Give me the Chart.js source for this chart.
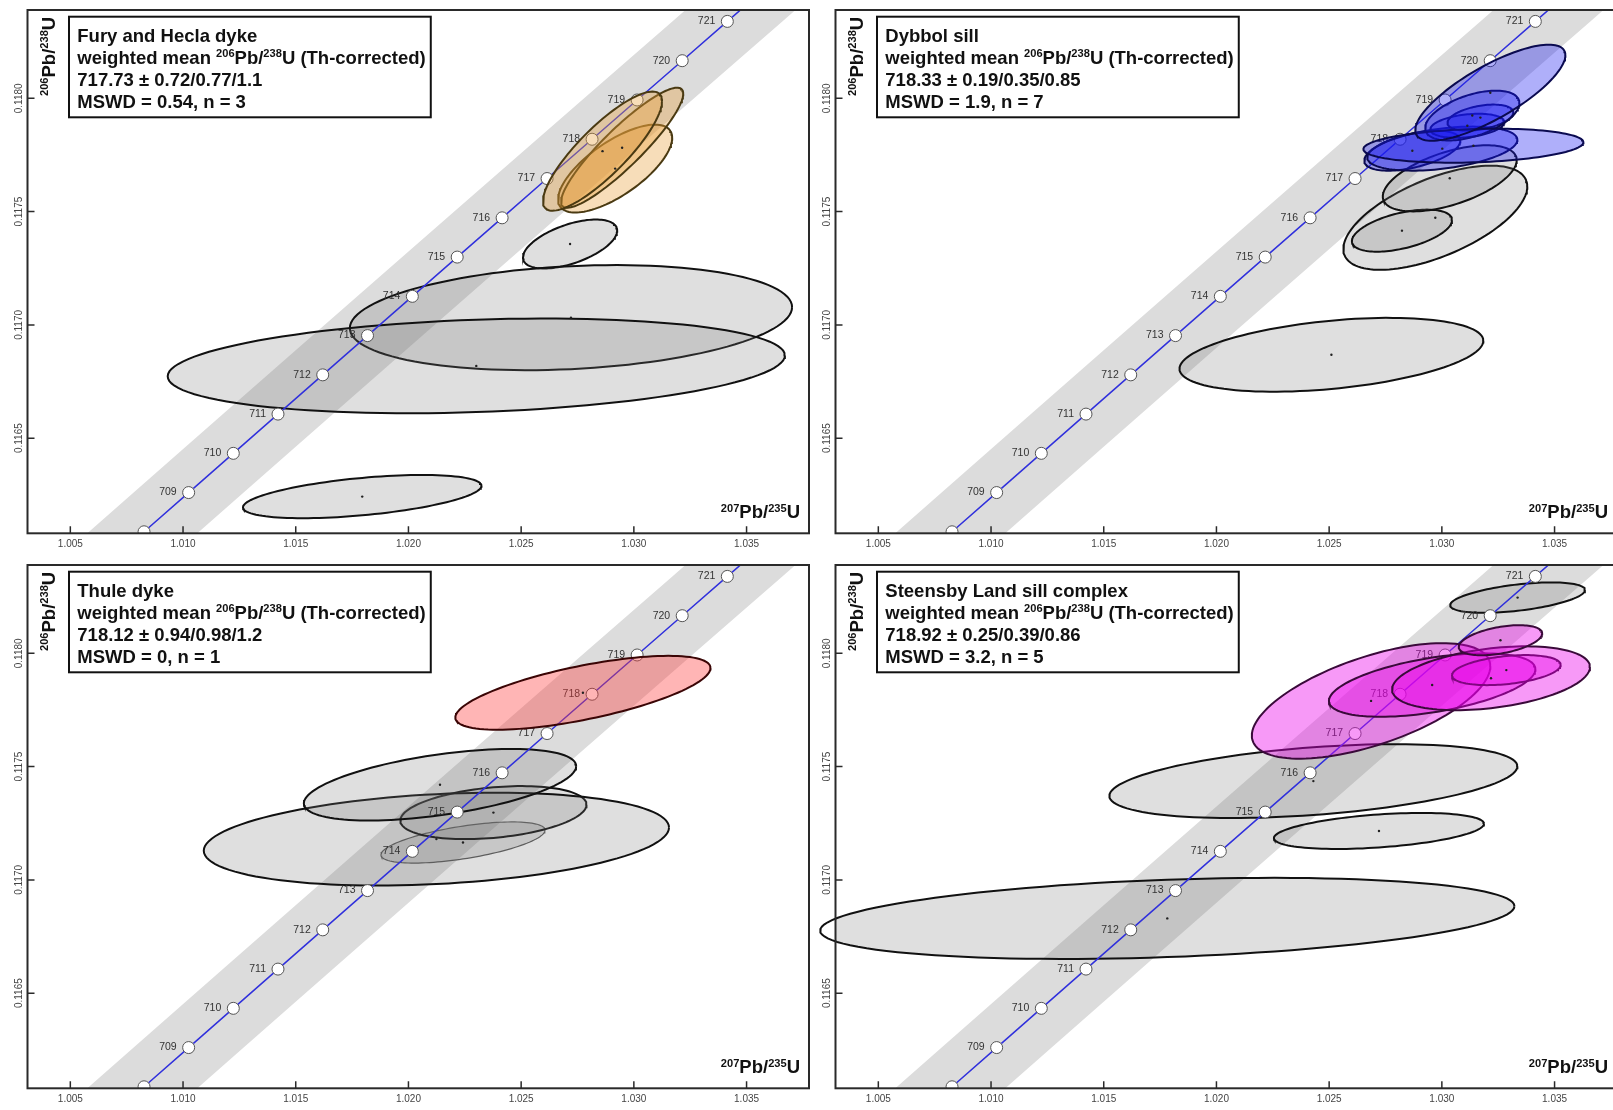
<!DOCTYPE html>
<html>
<head>
<meta charset="utf-8">
<script src="https://cdn.jsdelivr.net/npm/chart.js@4.4.1/dist/chart.umd.min.js"></script>
<style>
  html, body { margin: 0; padding: 0; background: #fff; }
  body { width: 1613px; height: 1110px; overflow: hidden; position: relative; }
  canvas { position: absolute; }
</style>
</head>
<body>
<canvas id="fury" width="820" height="560" style="left:0px;top:0px"></canvas>
<canvas id="dybbol" width="820" height="560" style="left:808px;top:0px"></canvas>
<canvas id="thule" width="820" height="560" style="left:0px;top:555px"></canvas>
<canvas id="steensby" width="820" height="560" style="left:808px;top:555px"></canvas>
<script>
const FONT = '"Liberation Sans", Arial, Helvetica, sans-serif';
Chart.defaults.font.family = FONT;

// ---- axes ----
const xTicks = [1.005, 1.010, 1.015, 1.020, 1.025, 1.030, 1.035];
const yTicks = [0.1165, 0.1170, 0.1175, 0.1180];
const xRange = [1.0031, 1.03777];
const yRange = [0.11608, 0.11839];

// ---- concordia: age (Ma), 207Pb/235U, 206Pb/238U ----
const concordiaAges = [707, 708, 709, 710, 711, 712, 713, 714, 715, 716, 717, 718, 719, 720, 721, 722];
const concordiaX = [1.0062934, 1.0082703, 1.0102491, 1.0122299, 1.0142126, 1.0161973, 1.0181839, 1.0201725,
                    1.0221630, 1.0241554, 1.0261499, 1.0281462, 1.0301446, 1.0321448, 1.0341470, 1.0361511];
const concordiaY = [0.1159136, 0.1160867, 0.1162598, 0.1164330, 0.1166062, 0.1167794, 0.1169527, 0.1171260,
                    0.1172993, 0.1174726, 0.1176460, 0.1178194, 0.1179928, 0.1181662, 0.1183397, 0.1185132];
// decay-constant uncertainty envelope, half width in 207Pb/235U
const envelopeHalfWidth = 0.00244;

// ---- Fury and Hecla dyke ----
const furyX   = [1.02301, 1.02721, 1.02717, 1.01795, 1.02861, 1.02948, 1.02917];
const furyY   = [0.116819, 0.117032, 0.117357, 0.116242, 0.117767, 0.117782, 0.117690];
const furySX  = [0.01369, 0.00981, 0.00209, 0.00529, 0.00264, 0.00271, 0.00253];
const furySY  = [0.000209, 0.000232, 0.000108, 0.0000954, 0.000263, 0.000265, 0.000194];
const furyRho = [0.22, 0.20, 0.55, 0.50, 0.84, 0.90, 0.70];
const furyUsed = [false, false, false, false, true, true, true];

// ---- Dybbol sill ----
const dybX   = [1.02510, 1.03035, 1.02823, 1.02971, 1.03215, 1.03140, 1.03135, 1.03171, 1.03113, 1.03002, 1.02869];
const dybY   = [0.116868, 0.117647, 0.117416, 0.117473, 0.118025, 0.117791, 0.117924, 0.117915, 0.117879, 0.117778, 0.117769];
const dybSX  = [0.00674, 0.00297, 0.00222, 0.00408, 0.00333, 0.00488, 0.00209, 0.00146, 0.00164, 0.00333, 0.00213];
const dybSY  = [0.000163, 0.000146, 0.0000928, 0.000230, 0.000212, 0.0000751, 0.000110, 0.0000574, 0.0000530, 0.0000972, 0.0000883];
const dybRho = [0.38, 0.55, 0.50, 0.60, 0.78, 0.20, 0.50, 0.40, 0.30, 0.40, 0.50];
const dybUsed = [false, false, false, false, true, true, true, true, true, true, true];

// ---- Thule dyke ----
const thuleX   = [1.02140, 1.02124, 1.02377, 1.02242, 1.02774];
const thuleY   = [0.117420, 0.117180, 0.117297, 0.117165, 0.117826];
const thuleSX  = [0.00604, 0.01032, 0.00413, 0.00364, 0.00566];
const thuleSY  = [0.000158, 0.000205, 0.000117, 0.0000908, 0.000163];
const thuleRho = [0.52, 0.25, 0.30, 0.60, 0.67];
const thuleUsed = [false, false, false, false, true];

// ---- Steensby Land sill complex ----
const steenX   = [1.03336, 1.02430, 1.02721, 1.01782, 1.03260, 1.03218, 1.03286, 1.02957, 1.02686];
const steenY   = [0.118246, 0.117436, 0.117216, 0.116830, 0.118058, 0.117890, 0.117926, 0.117860, 0.117790];
const steenSX  = [0.00299, 0.00905, 0.00466, 0.01540, 0.00185, 0.00439, 0.00241, 0.00458, 0.00529];
const steenSY  = [0.0000671, 0.000163, 0.0000795, 0.000179, 0.0000663, 0.000141, 0.0000663, 0.000140, 0.000255];
const steenRho = [0.50, 0.40, 0.40, 0.30, 0.45, 0.35, 0.35, 0.50, 0.60];
const steenUsed = [false, false, false, false, true, true, true, true, true];

// ---- panel captions ----
const panelNames = ['Fury and Hecla dyke', 'Dybbol sill', 'Thule dyke', 'Steensby Land sill complex'];
const panelDates = ['717.73 \u00b1 0.72/0.77/1.1', '718.33 \u00b1 0.19/0.35/0.85', '718.12 \u00b1 0.94/0.98/1.2', '718.92 \u00b1 0.25/0.39/0.86'];
const panelMswd  = ['MSWD = 0.54, n = 3', 'MSWD = 1.9, n = 7', 'MSWD = 0, n = 1', 'MSWD = 3.2, n = 5'];

// outline of a correlated error ellipse (bounding half-widths sx, sy; correlation rho)
function ellipseOutline(cx, cy, sx, sy, rho) {
  const pts = [], n = 120, r = Math.sqrt(1 - rho * rho);
  for (let k = 0; k <= n; k++) {
    const t = 2 * Math.PI * k / n;
    pts.push({ x: cx + sx * Math.cos(t), y: cy + sy * (rho * Math.cos(t) + r * Math.sin(t)) });
  }
  return pts;
}

const concordiaPts = concordiaX.map((x, i) => ({ x, y: concordiaY[i] }));
const envelopePts = concordiaX.map((x, i) => ({ x: x - envelopeHalfWidth, y: concordiaY[i] }))
  .concat(concordiaX.map((x, i) => ({ x: x + envelopeHalfWidth, y: concordiaY[i] })).reverse());

function drawRich(ctx, parts, x, y, size) {
  let cx = x;
  for (const p of parts) {
    const fs = p.sup ? size * 0.6 : size;
    ctx.font = `bold ${fs}px ${FONT}`;
    ctx.fillText(p.t, cx, p.sup ? y - size * 0.36 : y);
    cx += ctx.measureText(p.t).width;
  }
  return cx - x;
}
function richWidth(ctx, parts, size) {
  let w = 0;
  for (const p of parts) {
    ctx.font = `bold ${p.sup ? size * 0.6 : size}px ${FONT}`;
    w += ctx.measureText(p.t).width;
  }
  return w;
}

const yTitle = [{ t: '206', sup: true }, { t: 'Pb/' }, { t: '238', sup: true }, { t: 'U' }];
const xTitle = [{ t: '207', sup: true }, { t: 'Pb/' }, { t: '235', sup: true }, { t: 'U' }];
const meanLine = [{ t: 'weighted mean ' }, { t: '206', sup: true }, { t: 'Pb/' }, { t: '238', sup: true }, { t: 'U (Th-corrected)' }];

const deco = {
  id: 'deco',
  afterDatasetDraw(chart, args) {
    const ds = chart.data.datasets[args.index];
    if (!ds.ageMarks) return;
    const { ctx, chartArea: a, scales: { x, y } } = chart;
    ctx.save();
    ctx.font = `10.5px ${FONT}`;
    ctx.fillStyle = '#333';
    ctx.textAlign = 'right';
    ctx.textBaseline = 'middle';
    concordiaAges.forEach((age, i) => {
      const px = x.getPixelForValue(concordiaX[i]);
      const py = y.getPixelForValue(concordiaY[i]);
      if (px - 30 < a.left || py < a.top + 5 || py > a.bottom - 5) return;
      ctx.fillText(String(age), px - 12, py);
    });
    ctx.restore();
  },
  afterDraw(chart, args, opts) {
    const { ctx, chartArea: a, scales: { x, y } } = chart;
    ctx.save();
    // frame
    ctx.strokeStyle = '#2a2a2a';
    ctx.lineWidth = 2;
    ctx.strokeRect(a.left, a.top, a.right - a.left, a.bottom - a.top);
    // inward tick marks
    ctx.lineWidth = 1.5;
    ctx.beginPath();
    x.ticks.forEach(t => {
      const px = x.getPixelForValue(t.value);
      ctx.moveTo(px, a.bottom); ctx.lineTo(px, a.bottom - 7);
    });
    y.ticks.forEach(t => {
      const py = y.getPixelForValue(t.value);
      ctx.moveTo(a.left, py); ctx.lineTo(a.left + 7, py);
    });
    ctx.stroke();
    // rotated y tick labels
    ctx.fillStyle = '#444';
    ctx.font = `10px ${FONT}`;
    ctx.textAlign = 'center';
    ctx.textBaseline = 'middle';
    y.ticks.forEach(t => {
      const py = y.getPixelForValue(t.value);
      ctx.save();
      ctx.translate(a.left - 8, py);
      ctx.rotate(-Math.PI / 2);
      ctx.fillText(t.value.toFixed(4), 0, 0);
      ctx.restore();
    });
    // axis titles
    ctx.fillStyle = '#111';
    ctx.textAlign = 'left';
    ctx.textBaseline = 'alphabetic';
    ctx.save();
    ctx.translate(a.left + 27.5, a.top + 86);
    ctx.rotate(-Math.PI / 2);
    drawRich(ctx, yTitle, 0, 0, 18.5);
    ctx.restore();
    const wx = richWidth(ctx, xTitle, 18.5);
    drawRich(ctx, xTitle, a.right - 9 - wx, a.bottom - 15, 18.5);
    // caption box
    const bx = a.left + 41.5, by = a.top + 6.7, fs = 18.5;
    const bw = richWidth(ctx, meanLine, fs) + 8.3 + 5;
    ctx.fillStyle = '#fff';
    ctx.fillRect(bx, by, bw, 100.6);
    ctx.strokeStyle = '#111';
    ctx.lineWidth = 2;
    ctx.strokeRect(bx, by, bw, 100.6);
    ctx.fillStyle = '#111';
    const tx = bx + 8.3;
    drawRich(ctx, [{ t: opts.name }], tx, by + 25.6, fs);
    drawRich(ctx, meanLine, tx, by + 47.3, fs);
    drawRich(ctx, [{ t: opts.date }], tx, by + 69.3, fs);
    drawRich(ctx, [{ t: opts.mswd }], tx, by + 91, fs);
    ctx.restore();
  }
};

function makePanel(id, idx, ex, ey, esx, esy, erho, used, fill, stroke, thinOutline) {
  const datasets = [];
  datasets.push({ data: envelopePts, fill: 'shape', backgroundColor: '#dcdcdc', borderWidth: 0, pointRadius: 0, order: 100 });
  ex.forEach((cx, i) => {
    const thin = thinOutline && thinOutline[i];
    datasets.push({
      data: ellipseOutline(cx, ey[i], esx[i], esy[i], erho[i]),
      fill: 'shape',
      clip: false,
      backgroundColor: used[i] ? fill : 'rgba(120,120,120,0.24)',
      borderColor: used[i] ? stroke : (thin ? '#555' : '#111'),
      borderWidth: thin ? 1.2 : 2,
      pointRadius: 0,
      order: used[i] ? 60 : 90
    });
  });
  datasets.push({ data: concordiaPts, fill: false, borderColor: '#3030dc', borderWidth: 1.5, pointRadius: 0, order: 80 });
  datasets.push({ data: concordiaPts, showLine: false, pointRadius: 6, pointBackgroundColor: '#fff',
                  pointBorderColor: '#555', pointBorderWidth: 1, order: 70, ageMarks: true });
  datasets.push({ data: ex.map((cx, i) => ({ x: cx, y: ey[i] })), showLine: false, pointRadius: 1.2,
                  pointBackgroundColor: '#222', pointBorderWidth: 0, order: 50 });

  return new Chart(document.getElementById(id), {
    type: 'line',
    data: { datasets },
    plugins: [deco],
    options: {
      responsive: false,
      animation: false,
      devicePixelRatio: 1,
      events: [],
      layout: { padding: { left: 0, top: 10, right: 11, bottom: 0 } },
      plugins: {
        legend: { display: false },
        tooltip: { enabled: false },
        deco: { name: panelNames[idx], date: panelDates[idx], mswd: panelMswd[idx] }
      },
      scales: {
        x: {
          type: 'linear', min: xRange[0], max: xRange[1],
          afterBuildTicks: s => { s.ticks = xTicks.map(v => ({ value: v })); },
          afterFit: s => { s.height = 26.7; },
          grid: { display: false, drawTicks: false },
          border: { display: false },
          ticks: { callback: v => v.toFixed(3), font: { size: 10 }, color: '#444', padding: 5, maxRotation: 0, autoSkip: false }
        },
        y: {
          type: 'linear', min: yRange[0], max: yRange[1],
          afterBuildTicks: s => { s.ticks = yTicks.map(v => ({ value: v })); },
          afterFit: s => { s.width = 27.5; },
          grid: { display: false, drawTicks: false },
          border: { display: false },
          ticks: { display: false }
        }
      }
    }
  });
}

makePanel('fury', 0, furyX, furyY, furySX, furySY, furyRho, furyUsed, 'rgba(232,160,60,0.36)', '#4a3a12');
makePanel('dybbol', 1, dybX, dybY, dybSX, dybSY, dybRho, dybUsed, 'rgba(25,25,240,0.35)', '#0a0a50');
makePanel('thule', 2, thuleX, thuleY, thuleSX, thuleSY, thuleRho, thuleUsed, 'rgba(255,60,60,0.38)', '#3a0505',
          [false, false, false, true, false]);
makePanel('steensby', 3, steenX, steenY, steenSX, steenSY, steenRho, steenUsed, 'rgba(235,0,235,0.40)', '#3a0a3a');
</script>
</body>
</html>
